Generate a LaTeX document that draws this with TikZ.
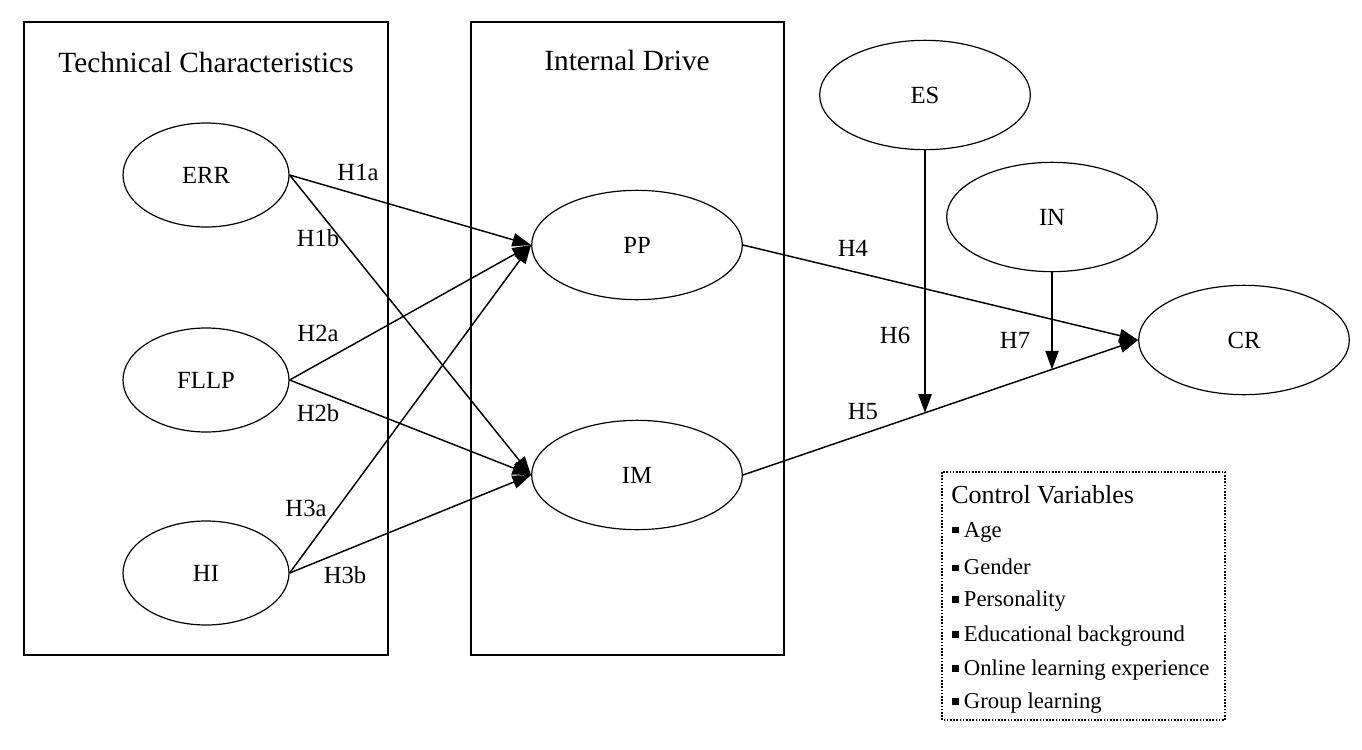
\documentclass[tikz,border=0pt]{standalone}
\usepackage{fontspec}
\setmainfont{Liberation Serif}
\usetikzlibrary{shapes.geometric,arrows.meta,calc}
\newcommand{\sqbul}{\rule[0.17em]{0.28em}{0.28em}\hspace{4pt}}
\tikzset{
  ell/.style={ellipse, draw, line width=0.9pt, inner sep=0pt, font=\fontsize{18.5}{22}\selectfont},
  leftell/.style={ell, minimum width=124.5pt, minimum height=78pt},
  bigell/.style={ell, minimum width=158pt, minimum height=82pt},
  grp/.style={draw, line width=0.9pt},
  arr/.style={line width=1.1pt, -{Triangle[length=14pt,width=10pt]}},
  hlab/.style={font=\fontsize{18.5}{21}\selectfont, inner sep=0pt},
  ttl/.style={font=\fontsize{22}{26}\selectfont, inner sep=0pt},
  cvtitle/.style={font=\fontsize{19.5}{22}\selectfont, inner sep=0pt, anchor=west},
  cvitem/.style={font=\fontsize{17}{20}\selectfont, inner sep=0pt, anchor=west},
  cvbox/.style={draw, line width=0.8pt, dash pattern=on 1.2pt off 1.2pt},
}
\begin{document}
\begin{tikzpicture}[x=0.75pt, y=-0.75pt]
\useasboundingbox (0,0) rectangle (1362,749);
% group boxes
\draw[grp] (24,22) rectangle (388,655);
\draw[grp] (471,22) rectangle (784,655);
\node[ttl] (t1) at (206,62) {Technical Characteristics};
\node[ttl] (t2) at (627,60) {Internal Drive};
% ellipses
\node[leftell] (ERR) at (206,175) {ERR};
\node[leftell] (FLLP) at (206,380) {FLLP};
\node[leftell] (HI) at (206,573) {HI};
\node[bigell] (PP) at (637,245) {PP};
\node[bigell] (IM) at (637,475) {IM};
\node[bigell] (ES) at (925,95) {ES};
\node[bigell] (IN) at (1052,217) {IN};
\node[bigell] (CR) at (1244,340) {CR};
% connectors
\draw[arr] (ERR.east) -- (PP.west);
\draw[arr] (ERR.east) -- (IM.west);
\draw[arr] (FLLP.east) -- (PP.west);
\draw[arr] (FLLP.east) -- (IM.west);
\draw[arr] (HI.east) -- (PP.west);
\draw[arr] (HI.east) -- (IM.west);
\draw[arr] (PP.east) -- (CR.west);
\draw[arr] (IM.east) -- (CR.west);
\coordinate (esB) at ($(ES.south)+(0,500)$);
\coordinate (inB) at ($(IN.south)+(0,500)$);
\coordinate (m6) at (intersection of IM.east--CR.west and ES.south--esB);
\coordinate (m7) at (intersection of IM.east--CR.west and IN.south--inB);
\draw[arr] (ES.south) -- (m6);
\draw[arr] (IN.south) -- (m7);
% labels
\node[hlab] (h1a) at (358,172) {H1a};
\node[hlab] (h1b) at (318,238) {H1b};
\node[hlab] (h2a) at (318,333) {H2a};
\node[hlab] (h2b) at (318,413) {H2b};
\node[hlab] (h3a) at (306,508) {H3a};
\node[hlab] (h3b) at (345,575) {H3b};
\node[hlab] (h4) at (853,248) {H4};
\node[hlab] (h5) at (863,412) {H5};
\node[hlab] (h6) at (895,335) {H6};
\node[hlab] (h7) at (1015,340) {H7};
% control variables
\draw[cvbox] (942,472) rectangle (1225,720);
\node[cvtitle] (cv) at (951,495) {Control Variables};
\node[cvitem] (cv1) at (952,532) {\sqbul Age};
\node[cvitem] (cv2) at (952,567) {\sqbul Gender};
\node[cvitem] (cv3) at (952,601) {\sqbul Personality};
\node[cvitem] (cv4) at (952,636) {\sqbul Educational background};
\node[cvitem] (cv5) at (952,670) {\sqbul Online learning experience};
\node[cvitem] (cv6) at (952,703) {\sqbul Group learning};
\end{tikzpicture}
\end{document}
